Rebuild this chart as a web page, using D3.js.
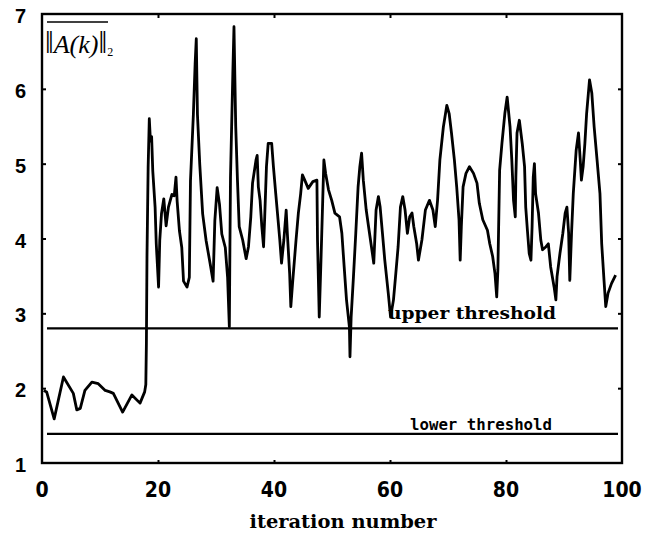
<!DOCTYPE html>
<html><head><meta charset="utf-8">
<script src="https://cdn.jsdelivr.net/npm/d3@7"></script>
<style>body{margin:0;background:#fff}svg{display:block}</style>
</head><body>
<svg id="c" width="657" height="538"></svg>
<script>
const iterations = [0.3,0.8,2.1,3.7,5.4,6.0,6.6,7.4,8.6,9.7,10.9,11.7,12.3,13.9,15.5,16.9,17.7,17.9,18.0,18.1,18.3,18.5,18.7,18.9,19.1,19.5,19.7,20.1,20.3,20.6,21.0,21.4,21.8,22.4,22.8,23.1,23.3,23.7,24.1,24.4,25.0,25.4,25.6,26.1,26.4,26.6,26.8,27.2,27.7,28.3,29.0,29.5,29.8,30.2,30.6,31.0,31.6,32.0,32.3,32.4,32.5,32.9,33.1,33.4,33.7,34.0,34.6,35.2,35.6,36.0,36.3,36.9,37.1,37.3,37.6,37.9,38.2,38.4,38.7,39.0,39.6,39.9,40.3,40.7,41.0,41.3,41.7,42.1,42.3,42.7,42.9,43.2,43.8,44.2,44.6,44.9,45.3,45.9,46.7,47.4,47.5,47.8,48.1,48.4,48.6,48.9,49.4,49.95,50.5,51.3,51.7,52.1,52.5,53.0,53.1,53.3,53.7,54.1,54.5,54.8,55.1,55.4,55.9,56.3,56.8,57.2,57.6,58.0,58.3,58.7,59.1,59.7,60.1,60.6,61.0,61.4,61.8,62.2,62.6,63.0,63.4,63.8,64.1,64.6,64.9,65.5,66.1,66.8,67.4,67.8,68.2,68.6,69.2,69.8,70.2,70.6,71.1,71.5,71.9,72.1,72.3,72.6,73.1,73.7,74.4,75.0,75.4,76.0,76.8,77.2,77.7,78.1,78.4,78.6,78.9,79.3,79.8,80.2,80.7,81.0,81.3,81.6,81.7,81.9,82.3,82.8,83.2,83.4,83.7,84.0,84.3,84.5,84.7,84.9,85.1,85.6,86.0,86.3,86.9,87.3,87.7,88.3,88.6,88.8,89.3,89.8,90.2,90.5,90.8,91.0,91.3,91.6,92.1,92.5,92.8,93.0,93.3,93.6,93.9,94.4,94.8,95.2,95.7,96.2,96.5,96.9,97.2,97.6,98.2,98.9];
const norms = [1.97,1.95,1.59,2.15,1.93,1.71,1.73,1.97,2.08,2.06,1.97,1.95,1.93,1.68,1.91,1.80,1.95,2.05,2.6,3.75,4.95,5.6,5.3,5.36,4.9,4.42,3.93,3.35,3.97,4.33,4.53,4.17,4.42,4.59,4.57,4.82,4.5,4.1,3.88,3.43,3.35,3.48,4.77,5.66,6.33,6.67,5.66,4.99,4.33,3.97,3.66,3.43,4.24,4.68,4.46,4.06,3.88,3.48,2.82,3.88,4.82,6.2,6.83,5.5,4.78,4.16,3.98,3.73,3.89,4.29,4.74,5.05,5.11,4.69,4.51,4.16,3.89,4.29,4.96,5.27,5.27,4.96,4.6,4.25,3.98,3.67,3.98,4.38,4.07,3.53,3.09,3.4,3.98,4.34,4.6,4.85,4.78,4.67,4.76,4.78,3.98,2.95,3.71,4.51,5.05,4.87,4.65,4.51,4.34,4.29,4.07,3.62,3.18,2.82,2.42,2.95,3.49,4.07,4.69,4.96,5.14,4.78,4.38,4.16,3.89,3.67,4.38,4.56,4.42,4.07,3.71,3.27,2.95,3.18,3.53,3.89,4.42,4.56,4.38,4.07,4.29,4.34,4.16,3.93,3.71,3.98,4.38,4.51,4.38,4.16,4.51,5.05,5.49,5.78,5.67,5.41,5.05,4.69,4.25,3.71,4.16,4.69,4.87,4.96,4.87,4.74,4.47,4.25,4.11,3.93,3.76,3.53,3.22,3.58,4.91,5.27,5.67,5.89,5.49,5.05,4.51,4.29,4.82,5.41,5.58,5.27,4.96,4.42,4.1,3.8,3.71,4.16,4.82,5.0,4.6,4.34,3.98,3.85,3.89,3.93,3.62,3.35,3.18,3.49,3.8,4.07,4.34,4.42,4.07,3.44,4.07,4.6,5.18,5.41,5.05,4.78,4.96,5.27,5.67,6.12,5.94,5.49,5.05,4.6,3.93,3.44,3.09,3.27,3.4,3.51];
const xTicks = [0,20,40,60,80,100];
const yTicks = [1,2,3,4,5,6,7];
const thresholds = [
  {name:"upper threshold", value:2.80},
  {name:"lower threshold", value:1.39}
];
const xLabel = "iteration number";

const svg = d3.select("#c");
const L=42,R=622,T=14,B=463;
const x = d3.scaleLinear().domain([0,100]).range([L,R]);
const y = d3.scaleLinear().domain([1,7]).range([B,T]);

// threshold lines
thresholds.forEach(th=>{
  svg.append("line").attr("x1",L+5).attr("x2",R-4)
    .attr("y1",y(th.value)).attr("y2",y(th.value))
    .attr("stroke","#000").attr("stroke-width",2.2);
});
svg.append("text").attr("x",388).attr("y",y(thresholds[0].value)-9)
  .attr("font-family","DejaVu Serif").attr("font-weight","bold").attr("font-size",16)
  .attr("textLength",168).attr("lengthAdjust","spacingAndGlyphs").text(thresholds[0].name);
svg.append("text").attr("x",410).attr("y",y(thresholds[1].value)-4)
  .attr("font-family","DejaVu Sans Mono").attr("font-weight","bold").attr("font-size",15)
  .attr("textLength",142).attr("lengthAdjust","spacingAndGlyphs").text(thresholds[1].name);

// data line
const pts = iterations.map((t,i)=>[t,norms[i]]);
svg.append("path").datum(pts)
  .attr("d", d3.line().x(d=>x(d[0])).y(d=>y(d[1])))
  .attr("fill","none").attr("stroke","#000").attr("stroke-width",2.8).attr("stroke-linejoin","round");

// frame
svg.append("rect").attr("x",L).attr("y",T).attr("width",R-L).attr("height",B-T)
  .attr("fill","none").attr("stroke","#000").attr("stroke-width",2.4);

const axB = svg.append("g").attr("transform",`translate(0,${B})`)
  .call(d3.axisTop(x).tickValues(xTicks.slice(1,-1)).tickSize(3).tickFormat(""));
const axT = svg.append("g").attr("transform",`translate(0,${T})`)
  .call(d3.axisBottom(x).tickValues(xTicks.slice(1,-1)).tickSize(4).tickFormat(""));
const axL = svg.append("g").attr("transform",`translate(${L},0)`)
  .call(d3.axisRight(y).tickValues(yTicks.slice(1,-1)).tickSize(4).tickFormat(""));
const axR = svg.append("g").attr("transform",`translate(${R},0)`)
  .call(d3.axisLeft(y).tickValues(yTicks.slice(1,-1)).tickSize(4).tickFormat(""));
[axB,axT,axL,axR].forEach(g=>{g.select(".domain").remove();g.selectAll("line").attr("stroke-width",2);});

svg.append("g").selectAll("text").data(xTicks).join("text")
  .attr("x",d=>x(d)).attr("y",497).attr("text-anchor","middle")
  .attr("font-family","DejaVu Sans Condensed").attr("font-stretch","condensed").attr("font-weight","bold").attr("font-size",21)
  .text(d=>d);
svg.append("g").selectAll("text").data(yTicks).join("text")
  .attr("x",26).attr("y",d=>y(d)+9).attr("text-anchor","end")
  .attr("font-family","Liberation Sans").attr("font-weight","bold").attr("font-size",20)
  .text(d=>d);

svg.append("text").attr("x",343).attr("y",528).attr("text-anchor","middle")
  .attr("font-family","DejaVu Serif").attr("font-weight","bold").attr("font-size",19)
  .attr("textLength",187).attr("lengthAdjust","spacingAndGlyphs").text(xLabel);

const yl = svg.append("text").attr("x",45).attr("y",53)
  .attr("font-family","Liberation Serif").attr("font-size",31);
yl.append("tspan").text("‖");
yl.append("tspan").attr("font-style","italic").attr("font-size",26).text("A(k)");
yl.append("tspan").text("‖");
yl.append("tspan").attr("font-size",12).attr("dy",3).text("2");
svg.append("line").attr("x1",47).attr("x2",108).attr("y1",22).attr("y2",22)
  .attr("stroke","#000").attr("stroke-width",1.5);
</script>
</body></html>
